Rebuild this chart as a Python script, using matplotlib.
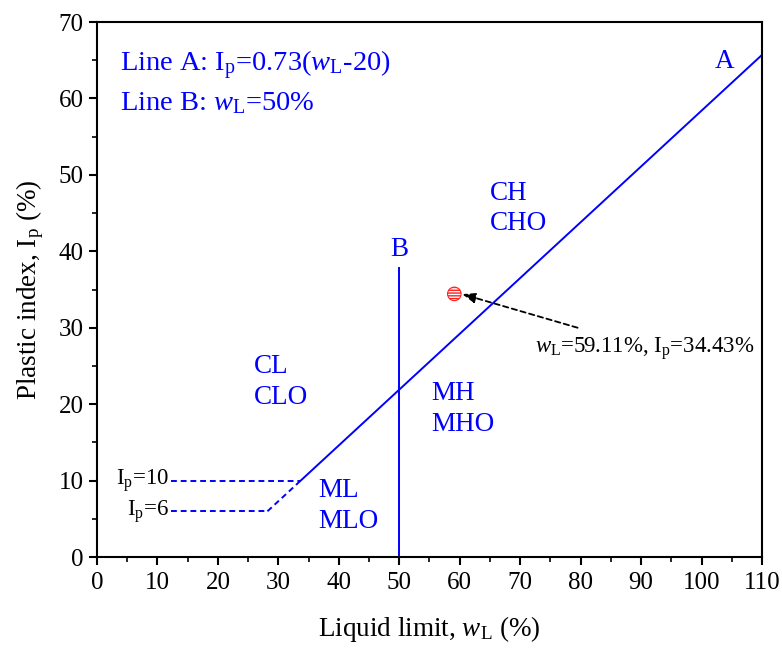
import matplotlib
matplotlib.use("Agg")
import matplotlib.pyplot as plt
import numpy as np

plt.rcParams['font.family'] = ['Liberation Serif', 'DejaVu Serif']
plt.rcParams['mathtext.fontset'] = 'custom'
plt.rcParams['mathtext.rm'] = 'Liberation Serif'
plt.rcParams['mathtext.it'] = 'Liberation Serif:italic'
plt.rcParams['hatch.color'] = '#FF2020'

# Data
lineA_x = [33.7, 110]
lineA_dash_x = [28.2, 33.7]
lineB_x = [50, 50]
lineB_y = [0, 37.8]
ip10_x = [12.2, 33.7]
ip10_y = [10, 10]
ip6_x = [12.2, 28.2]
ip6_y = [6, 6]
point_wL = [59.11]
point_Ip = [34.43]
regions = ["CH\nCHO", "CL\nCLO", "MH\nMHO", "ML\nMLO"]
region_x = [65.0, 26.0, 55.3, 36.6]
region_y = [45.6, 22.9, 19.4, 6.7]

def lineA(x):
    return 0.73 * (np.asarray(x) - 20)

blue = '#0000FF'
fig = plt.figure(figsize=(7.82, 6.48), dpi=100)
ax = fig.add_axes([0.124, 0.1404, 0.8504, 0.8256])

ax.plot(lineA_x, lineA(lineA_x), color=blue, lw=1.4)
ax.plot(lineA_dash_x, lineA(lineA_dash_x), color=blue, lw=1.4, ls=(0, (3, 2)))
ax.plot(lineB_x, lineB_y, color=blue, lw=1.4)
ax.plot(ip10_x, ip10_y, color=blue, lw=1.4, ls=(0, (3, 2)))
ax.plot(ip6_x, ip6_y, color=blue, lw=1.4, ls=(0, (3, 2)))

ax.scatter(point_wL, point_Ip, s=95, facecolor='white', edgecolor='#FF2020',
           hatch='------', linewidth=0.8, zorder=5)

ax.annotate('', xy=(60.4, 34.4), xytext=(79.5, 30.0),
            arrowprops=dict(arrowstyle='-|>,head_length=0.8,head_width=0.3',
                            color='black', lw=1.3, ls=(0, (3, 2)),
                            shrinkA=0, shrinkB=0))
ax.text(72.5, 27.3, r'$w_\mathrm{L}$=59.11%, I$_\mathrm{p}$=34.43%', fontsize=16.5,
        ha='left', va='center')

for lab, x, y in zip(regions, region_x, region_y):
    ax.text(x, y, lab, color=blue, fontsize=19.5, ha='left', va='center',
            linespacing=1.3)

ax.text(50, 40.3, 'B', color=blue, fontsize=19.5, ha='center', va='center')
ax.text(103.8, 64.8, 'A', color=blue, fontsize=19.5, ha='center', va='center')

ax.text(3.8, 64.4, r'Line A: I$_\mathrm{p}$=0.73($w_\mathrm{L}$-20)', color=blue,
        fontsize=20.5, ha='left', va='center')
ax.text(3.8, 59.4, r'Line B: $w_\mathrm{L}$=50%', color=blue,
        fontsize=20.5, ha='left', va='center')

ax.text(12.0, 10, r'I$_\mathrm{p}$=10', fontsize=16.5, ha='right', va='center')
ax.text(12.0, 6, r'I$_\mathrm{p}$=6', fontsize=16.5, ha='right', va='center')

ax.set_xlim(0, 110)
ax.set_ylim(0, 70)
ax.set_xticks(np.arange(0, 111, 10))
ax.set_yticks(np.arange(0, 71, 10))
ax.set_xticks(np.arange(5, 110, 10), minor=True)
ax.set_yticks(np.arange(5, 70, 10), minor=True)
ax.tick_params(which='major', direction='out', length=6, width=1.5, labelsize=18)
ax.tick_params(axis='x', which='major', pad=5)
ax.tick_params(which='minor', direction='out', length=3.5, width=1.2)
for s in ax.spines.values():
    s.set_linewidth(1.5)

ax.set_xlabel(r'Liquid limit, $w_\mathrm{L}$ (%)', fontsize=19.5, labelpad=14)
ax.set_ylabel(r'Plastic index, I$_\mathrm{p}$ (%)', fontsize=19.5, labelpad=9)

fig.savefig('out.png', dpi=100)
